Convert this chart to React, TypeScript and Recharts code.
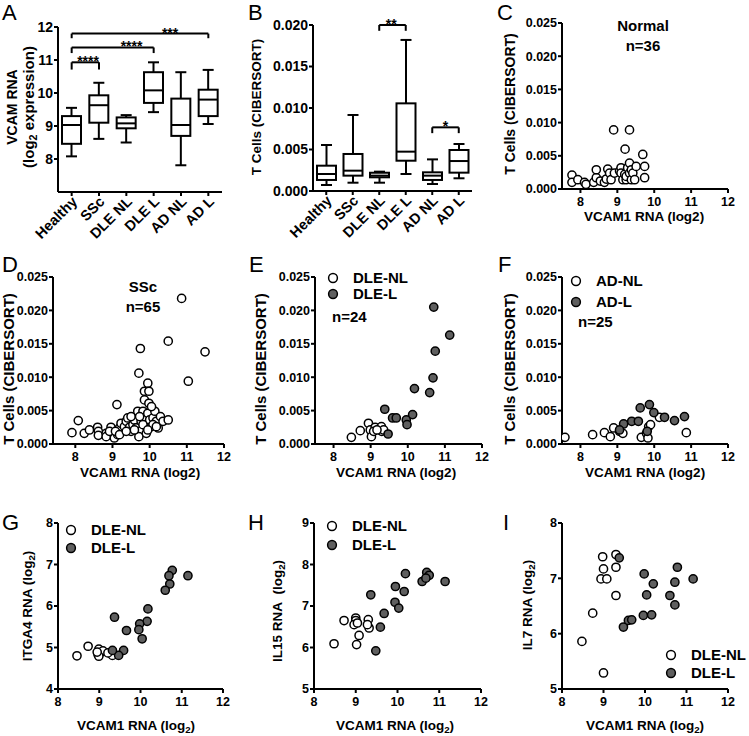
import React from 'react';
import { ComposedChart, Bar, XAxis, YAxis, ReferenceLine, ScatterChart, Scatter } from 'recharts';

const FONT = '"Liberation Sans", Arial, Helvetica, sans-serif';
const INK = '#000';
const GREY = '#5f5f5f';

// A / B: box plot groups
const groups = ['Healthy', 'SSc', 'DLE NL', 'DLE L', 'AD NL', 'AD L'];

const vcamMin = [8.08, 8.61, 8.5, 9.42, 7.81, 9.06];
const vcamQ1 = [8.46, 9.1, 8.93, 9.7, 8.7, 9.3];
const vcamMed = [9.03, 9.63, 9.08, 10.08, 9.03, 9.8];
const vcamQ3 = [9.3, 9.93, 9.26, 10.63, 9.83, 10.1];
const vcamMax = [9.55, 10.31, 9.33, 10.93, 10.63, 10.7];

const tcMin = [0.00072, 0.001, 0.001, 0.00205, 0.00084, 0.00153];
const tcQ1 = [0.00133, 0.00185, 0.00165, 0.00365, 0.00133, 0.00221];
const tcMed = [0.00205, 0.00245, 0.00185, 0.00474, 0.00185, 0.00361];
const tcQ3 = [0.00305, 0.00446, 0.0022, 0.01056, 0.00225, 0.00494];
const tcMax = [0.00554, 0.00916, 0.00233, 0.0182, 0.00381, 0.00566];

const bracketsA = [
  { from: 'Healthy', to: 'SSc', y: 10.93, drop: 0.22, stars: '****', at: 0.6 },
  { from: 'Healthy', to: 'DLE L', y: 11.38, drop: 0.17, stars: '****', at: 0.73 },
  { from: 'Healthy', to: 'AD L', y: 11.8, drop: 0.14, stars: '***', at: 0.72 },
];
const bracketsB = [
  { from: 'DLE NL', to: 'DLE L', y: 0.02, drop: 0.0007, stars: '**', at: 0.45 },
  { from: 'AD NL', to: 'AD L', y: 0.00767, drop: 0.0007, stars: '*', at: 0.5 },
];

// C-F: T cells vs VCAM1
type Pt = [number, number];
const normalPts: Pt[] = [
  [7.77, 0.0021], [7.77, 0.001], [7.93, 0.0014], [8.11, 0.001], [8.15, 0.0007], [8.36, 0.001],
  [8.43, 0.0017], [8.43, 0.0029], [8.54, 0.0012], [8.65, 0.001], [8.7, 0.0015], [8.74, 0.003],
  [8.79, 0.0024], [8.83, 0.0014], [8.9, 0.0089], [8.92, 0.0024], [9.06, 0.0027], [9.1, 0.0032],
  [9.1, 0.0024], [9.15, 0.0014], [9.2, 0.0022], [9.21, 0.006], [9.24, 0.0014], [9.24, 0.0019],
  [9.28, 0.0032], [9.33, 0.0089], [9.33, 0.0039], [9.33, 0.0024], [9.38, 0.0014], [9.38, 0.0029],
  [9.42, 0.0024], [9.47, 0.0014], [9.51, 0.0034], [9.69, 0.0052], [9.74, 0.0034], [9.74, 0.0017],
];
const sscPts: Pt[] = [
  [10.86, 0.0218], [10.5, 0.0154], [9.75, 0.0143], [11.49, 0.0138], [9.71, 0.0106], [11.04, 0.0094],
  [9.95, 0.0091], [9.86, 0.0079], [9.98, 0.0079], [9.86, 0.0066], [9.98, 0.0061], [9.12, 0.0059],
  [8.08, 0.0035], [7.91, 0.0017], [8.24, 0.0016], [8.38, 0.0021], [8.6, 0.0025], [8.62, 0.0019],
  [8.62, 0.0013], [8.83, 0.0016], [8.96, 0.0025], [9.01, 0.0015], [9.05, 0.0009], [9.14, 0.0014],
  [9.19, 0.0024], [9.23, 0.0031], [9.32, 0.0026], [9.37, 0.0034], [9.46, 0.0025], [9.5, 0.0019],
  [9.55, 0.0029], [9.59, 0.0036], [9.64, 0.0024], [9.68, 0.0049], [9.73, 0.0019], [9.71, 0.0011],
  [9.77, 0.0034], [9.82, 0.0049], [9.86, 0.0039], [9.91, 0.0029], [9.95, 0.0046], [10.0, 0.0036],
  [10.05, 0.0026], [10.09, 0.0039], [10.14, 0.0049], [10.18, 0.0034], [10.23, 0.0024], [10.29, 0.0041],
  [10.36, 0.0034], [10.5, 0.0036], [9.91, 0.0016], [9.41, 0.0039], [8.83, 0.0011], [8.92, 0.0019],
  [9.08, 0.0019], [9.5, 0.0041], [10.09, 0.0029], [9.82, 0.0029], [9.73, 0.0041], [9.19, 0.0014],
  [9.95, 0.0021], [10.18, 0.0026], [9.59, 0.0021], [9.37, 0.0019], [10.05, 0.0056],
];
const dleNlTc: Pt[] = [
  [8.48, 0.001], [8.72, 0.002], [8.94, 0.0031], [8.99, 0.0021], [9.02, 0.0011], [9.12, 0.0025],
  [9.3, 0.0019], [9.29, 0.0026], [9.08, 0.0019], [9.35, 0.0021], [9.17, 0.0021],
];
const dleLTc: Pt[] = [
  [10.7, 0.0205], [11.13, 0.0163], [10.74, 0.0139], [10.68, 0.0099], [10.18, 0.0083], [10.59, 0.0077],
  [9.38, 0.0052], [9.59, 0.0039], [9.69, 0.0039], [9.96, 0.0036], [10.13, 0.0044], [9.98, 0.0029],
  [9.47, 0.0015],
];
const adNlTc: Pt[] = [
  [7.58, 0.001], [8.33, 0.0014], [8.65, 0.0017], [8.81, 0.0011], [8.9, 0.0024], [9.06, 0.0019],
  [9.15, 0.0016], [9.65, 0.001], [9.79, 0.0016], [9.85, 0.0026], [9.9, 0.0029], [10.14, 0.004],
  [10.87, 0.0017], [9.83, 0.0009],
];
const adLTc: Pt[] = [
  [9.17, 0.003], [9.39, 0.0034], [9.57, 0.0034], [9.62, 0.0054], [9.87, 0.0059], [9.99, 0.0047],
  [10.28, 0.004], [10.55, 0.0035], [10.82, 0.0041], [9.81, 0.0019], [9.06, 0.0021],
];

// G-I: DLE genes vs VCAM1
const itga4Nl: Pt[] = [
  [8.46, 4.8], [8.73, 5.03], [8.99, 4.96], [9.03, 4.88], [8.97, 4.83], [9.29, 4.88],
  [9.32, 4.81], [9.09, 4.92], [8.99, 4.79], [9.21, 4.87], [8.95, 4.89],
];
const itga4L: Pt[] = [
  [11.15, 6.73], [10.77, 6.86], [10.69, 6.73], [10.71, 6.53], [10.6, 6.38], [10.18, 5.93],
  [10.16, 5.63], [9.98, 5.57], [9.96, 5.43], [10.04, 5.21], [9.37, 5.73], [9.66, 5.41],
  [9.59, 4.93], [9.47, 4.81], [9.32, 4.93],
];
const il15Nl: Pt[] = [
  [8.48, 6.09], [8.72, 6.65], [9.0, 6.71], [9.0, 6.65], [8.96, 6.55], [9.02, 6.07],
  [9.08, 6.29], [9.3, 6.67], [9.32, 6.47], [9.28, 6.55], [9.04, 6.59],
];
const il15L: Pt[] = [
  [9.48, 5.92], [9.59, 6.49], [9.68, 6.82], [9.36, 7.27], [9.95, 7.47], [9.94, 7.09],
  [10.03, 6.95], [10.16, 7.35], [10.19, 7.78], [10.59, 7.59], [10.7, 7.81], [10.76, 7.74],
  [10.68, 7.67], [11.14, 7.59],
];
const il7Nl: Pt[] = [
  [8.48, 5.86], [8.74, 6.37], [9.0, 5.29], [8.94, 6.99], [9.08, 6.99], [9.0, 7.17],
  [8.98, 7.39], [9.3, 7.43], [9.3, 7.2], [9.3, 6.69],
];
const il7L: Pt[] = [
  [9.38, 7.37], [9.98, 7.08], [10.04, 6.7], [10.2, 6.9], [9.96, 6.33], [10.16, 6.34],
  [9.48, 6.12], [9.6, 6.24], [9.68, 6.25], [10.6, 6.69], [10.72, 6.93], [10.78, 7.2],
  [10.72, 6.52], [11.16, 6.99],
];

const tcTicks = [0, 0.005, 0.01, 0.015, 0.02, 0.025];
const vcamTicks = [8, 9, 10, 11, 12];

const boxTick = { fill: INK, fontSize: 14, fontWeight: 700, fontFamily: FONT };
const dotTick = { fill: INK, fontSize: 12.5, fontWeight: 700, fontFamily: FONT };
const axisStroke = { stroke: INK, strokeWidth: 2 };

const T = ({ x, y, size = 13, bold = true, rot = false, anchor = 'middle', children }: any) => {
  const tx = anchor === 'middle' ? '-50%' : anchor === 'end' ? '-100%' : '0';
  return (
    <div
      style={{
        position: 'absolute', left: x, top: y, whiteSpace: 'nowrap', lineHeight: 1.15, color: INK,
        fontFamily: FONT, fontSize: size, fontWeight: bold ? 700 : 400,
        transform: `translate(${tx}, -50%)${rot ? ' rotate(-90deg)' : ''}`,
      }}
    >
      {children}
    </div>
  );
};

const Sub = ({ children }: any) => (
  <span style={{ fontSize: '0.72em', position: 'relative', top: '0.3em' }}>{children}</span>
);

const Key = ({ x, y, fill, label }: any) => (
  <>
    <svg style={{ position: 'absolute', left: x - 6, top: y - 6 }} width={12} height={12}>
      <circle cx={6} cy={6} r={4.4} fill={fill} stroke={INK} strokeWidth={1.5} />
    </svg>
    <T x={x + 20} y={y} size={15} anchor="start">{label}</T>
  </>
);

const BoxShape = (props: any) => {
  const { x, y, width, height, payload } = props;
  const top = Math.min(y, y + height);
  const h = Math.abs(height);
  const [lo, hi] = payload.range;
  const toY = (v: number) => top + (h * (hi - v)) / (hi - lo);
  const cx = x + width / 2;
  const cap = 5.5;
  return (
    <g stroke={INK} strokeWidth={2} fill="none">
      <line x1={cx} x2={cx} y1={toY(hi)} y2={toY(payload.q3)} />
      <line x1={cx} x2={cx} y1={toY(payload.q1)} y2={toY(lo)} />
      <line x1={cx - cap} x2={cx + cap} y1={toY(hi)} y2={toY(hi)} />
      <line x1={cx - cap} x2={cx + cap} y1={toY(lo)} y2={toY(lo)} />
      <rect x={x} y={toY(payload.q3)} width={width} height={toY(payload.q1) - toY(payload.q3)} fill="#fff" />
      <line x1={x} x2={x + width} y1={toY(payload.med)} y2={toY(payload.med)} />
    </g>
  );
};

const SlantTick = (p: any) => (
  <text
    x={p.x + 3}
    y={p.y + 1}
    transform={`rotate(-45 ${p.x + 3} ${p.y + 1})`}
    textAnchor="end"
    dy="0.35em"
    fill={INK}
    fontSize={14.5}
    fontWeight={700}
    fontFamily={FONT}
  >
    {p.payload.value}
  </text>
);

const starLabel = (text: string, at: number) => (lp: any) => {
  const vb = lp.viewBox || { x: 0, y: 0, width: 0 };
  return (
    <text x={vb.x + vb.width * at} y={vb.y + 4} textAnchor="middle" fontSize={14} fontWeight={700} fontFamily={FONT} fill={INK}>
      {text}
    </text>
  );
};

function BoxPanel({ plot, mins, q1s, meds, q3s, maxs, yDomain, yTicks, fmt, brackets }: any) {
  const [l, t, r, b] = plot;
  const YW = 48, MT = 8, MR = 6, XH = 66;
  const rows = groups.map((name, i) => ({ name, range: [mins[i], maxs[i]], q1: q1s[i], med: meds[i], q3: q3s[i] }));
  return (
    <div style={{ position: 'absolute', left: l - YW, top: t - MT }}>
      <ComposedChart width={r - l + YW + MR} height={b - t + MT + XH} data={rows} margin={{ top: MT, right: MR, bottom: 0, left: 0 }}>
        <XAxis dataKey="name" type="category" height={XH} tick={<SlantTick />} tickSize={4} tickMargin={2} axisLine={axisStroke} tickLine={axisStroke} interval={0} />
        <YAxis type="number" domain={yDomain} ticks={yTicks} width={YW} tickFormatter={fmt} tick={boxTick} tickSize={4} tickMargin={1} axisLine={axisStroke} tickLine={axisStroke} />
        <Bar dataKey="range" shape={BoxShape} barSize={19} isAnimationActive={false} />
        {brackets.map((bk: any, i: number) => (
          <ReferenceLine key={'h' + i} segment={[{ x: bk.from, y: bk.y }, { x: bk.to, y: bk.y }]} stroke={INK} strokeWidth={2} label={starLabel(bk.stars, bk.at)} />
        ))}
        {brackets.map((bk: any, i: number) => (
          <ReferenceLine key={'a' + i} segment={[{ x: bk.from, y: bk.y }, { x: bk.from, y: bk.y - bk.drop }]} stroke={INK} strokeWidth={2} />
        ))}
        {brackets.map((bk: any, i: number) => (
          <ReferenceLine key={'b' + i} segment={[{ x: bk.to, y: bk.y }, { x: bk.to, y: bk.y - bk.drop }]} stroke={INK} strokeWidth={2} />
        ))}
      </ComposedChart>
    </div>
  );
}

const dot = (fill: string) => (p: any) => (
  <circle cx={p.cx} cy={p.cy} r={4.1} fill={fill} stroke={INK} strokeWidth={1.5} />
);

function ScatterPanel({ plot, xDomain, xTicks, yDomain, yTicks, fmt, open, filled }: any) {
  const [l, t, r, b] = plot;
  const YW = 48, MT = 8, MR = 10, XH = 24;
  return (
    <div style={{ position: 'absolute', left: l - YW, top: t - MT }}>
      <ScatterChart width={r - l + YW + MR} height={b - t + MT + XH} margin={{ top: MT, right: MR, bottom: 0, left: 0 }}>
        <XAxis type="number" dataKey="x" domain={xDomain} ticks={xTicks} allowDataOverflow height={XH} tick={dotTick} tickSize={4} tickMargin={4} axisLine={axisStroke} tickLine={axisStroke} />
        <YAxis type="number" dataKey="y" domain={yDomain} ticks={yTicks} allowDataOverflow width={YW} tickFormatter={fmt} tick={dotTick} tickSize={4} tickMargin={1} axisLine={axisStroke} tickLine={axisStroke} />
        {open && (
          <Scatter data={open.map(([x, y]: Pt) => ({ x, y }))} shape={dot('#fff')} isAnimationActive={false} />
        )}
        {filled && (
          <Scatter data={filled.map(([x, y]: Pt) => ({ x, y }))} shape={dot(GREY)} isAnimationActive={false} />
        )}
      </ScatterChart>
    </div>
  );
}

const f3 = (v: number) => v.toFixed(3);
const f0 = (v: number) => String(v);

export default function App() {
  const tcLabel = 'T Cells (CIBERSORT)';
  const vcamX = 'VCAM1 RNA (log2)';
  return (
    <div style={{ position: 'absolute', left: 0, top: 0, width: 749, height: 736, background: '#fff', overflow: 'hidden' }}>
      {/* panel letters */}
      <T x={2} y={13} size={22} bold={false} anchor="start">A</T>
      <T x={248} y={13} size={22} bold={false} anchor="start">B</T>
      <T x={497} y={13} size={22} bold={false} anchor="start">C</T>
      <T x={2} y={265} size={22} bold={false} anchor="start">D</T>
      <T x={249} y={265} size={22} bold={false} anchor="start">E</T>
      <T x={498} y={265} size={22} bold={false} anchor="start">F</T>
      <T x={2} y={523} size={22} bold={false} anchor="start">G</T>
      <T x={248} y={523} size={22} bold={false} anchor="start">H</T>
      <T x={503} y={523} size={22} bold={false} anchor="start">I</T>

      <BoxPanel plot={[58, 27, 222, 192]} mins={vcamMin} q1s={vcamQ1} meds={vcamMed} q3s={vcamQ3} maxs={vcamMax}
        yDomain={[7, 12]} yTicks={vcamTicks} fmt={f0} brackets={bracketsA} />
      <T x={12} y={107} size={14} rot>VCAM RNA</T>
      <T x={29} y={107} size={15} rot>(log<Sub>2</Sub> expression)</T>

      <BoxPanel plot={[313, 25, 472, 191]} mins={tcMin} q1s={tcQ1} meds={tcMed} q3s={tcQ3} maxs={tcMax}
        yDomain={[0, 0.02]} yTicks={[0, 0.005, 0.01, 0.015, 0.02]} fmt={f3} brackets={bracketsB} />
      <T x={257} y={107} size={13.5} rot>{tcLabel}</T>

      <ScatterPanel plot={[562, 23, 728, 189]} xDomain={[7.5, 12]} xTicks={vcamTicks} yDomain={[0, 0.025]} yTicks={tcTicks} fmt={f3} open={normalPts} />
      <T x={510} y={104} size={14} rot>{tcLabel}</T>
      <T x={644} y={217} size={13.5}>{vcamX}</T>
      <T x={643} y={26} size={15}>Normal</T>
      <T x={643} y={46} size={15}>n=36</T>

      <ScatterPanel plot={[53, 277, 224, 444]} xDomain={[7.4, 12]} xTicks={vcamTicks} yDomain={[0, 0.025]} yTicks={tcTicks} fmt={f3} open={sscPts} />
      <T x={9} y={369} size={15} rot>{tcLabel}</T>
      <T x={140} y={473} size={13.5}>{vcamX}</T>
      <T x={143} y={287} size={15}>SSc</T>
      <T x={143} y={307} size={15}>n=65</T>

      <ScatterPanel plot={[315, 277, 482, 444]} xDomain={[7.5, 12]} xTicks={vcamTicks} yDomain={[0, 0.025]} yTicks={tcTicks} fmt={f3} open={dleNlTc} filled={dleLTc} />
      <T x={261} y={369} size={15} rot>{tcLabel}</T>
      <T x={396} y={473} size={13.5}>{vcamX}</T>
      <Key x={333} y={278} fill="#fff" label="DLE-NL" />
      <Key x={333} y={294} fill={GREY} label="DLE-L" />
      <T x={332} y={317} size={15} anchor="start">n=24</T>

      <ScatterPanel plot={[562, 277, 728, 444]} xDomain={[7.5, 12]} xTicks={vcamTicks} yDomain={[0, 0.025]} yTicks={tcTicks} fmt={f3} open={adNlTc} filled={adLTc} />
      <T x={510} y={369} size={15} rot>{tcLabel}</T>
      <T x={645} y={473} size={13.5}>{vcamX}</T>
      <Key x={576} y={281} fill="#fff" label="AD-NL" />
      <Key x={576} y={302} fill={GREY} label="AD-L" />
      <T x={578} y={322} size={15} anchor="start">n=25</T>

      <ScatterPanel plot={[58, 523, 223, 689]} xDomain={[8, 12]} xTicks={vcamTicks} yDomain={[4, 8]} yTicks={[4, 5, 6, 7, 8]} fmt={f0} open={itga4Nl} filled={itga4L} />
      <T x={28} y={606} size={13.5} rot>ITGA4 RNA (log<Sub>2</Sub>)</T>
      <T x={136} y={726} size={13.5}>VCAM1 RNA (log<Sub>2</Sub>)</T>
      <Key x={71} y={530} fill="#fff" label="DLE-NL" />
      <Key x={71} y={548} fill={GREY} label="DLE-L" />

      <ScatterPanel plot={[314, 523, 481, 689]} xDomain={[8, 12]} xTicks={vcamTicks} yDomain={[5, 9]} yTicks={[5, 6, 7, 8, 9]} fmt={f0} open={il15Nl} filled={il15L} />
      <T x={278} y={611} size={13.5} rot>IL15 RNA&nbsp; (log<Sub>2</Sub>)</T>
      <T x={395} y={726} size={13.5}>VCAM1 RNA (log<Sub>2</Sub>)</T>
      <Key x={332} y={526} fill="#fff" label="DLE-NL" />
      <Key x={332} y={545} fill={GREY} label="DLE-L" />

      <ScatterPanel plot={[562, 523, 728, 689]} xDomain={[8, 12]} xTicks={vcamTicks} yDomain={[5, 8]} yTicks={[5, 6, 7, 8]} fmt={f0} open={il7Nl} filled={il7L} />
      <T x={528} y={605} size={13.5} rot>IL7 RNA (log<Sub>2</Sub>)</T>
      <T x={645} y={726} size={13.5}>VCAM1 RNA (log<Sub>2</Sub>)</T>
      <Key x={671} y={655} fill="#fff" label="DLE-NL" />
      <Key x={671} y={673} fill={GREY} label="DLE-L" />
    </div>
  );
}
